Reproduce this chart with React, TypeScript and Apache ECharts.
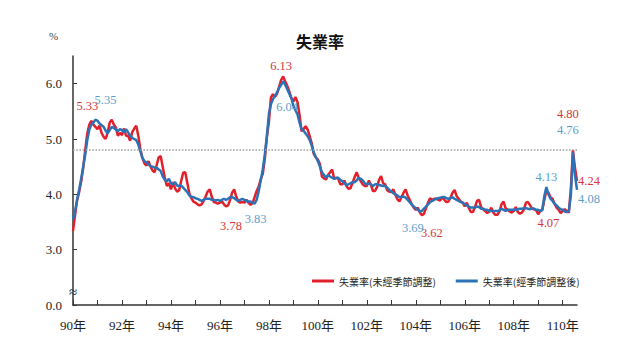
import React, { useEffect, useRef } from "react";
import * as echarts from "echarts";

// Monthly unemployment rate (%), 90年1月 .. 110年8月
const unadjusted = [
  3.34, 3.62, 3.89, 4.04, 4.23, 4.48, 4.80, 5.10, 5.26, 5.33, 5.26, 5.22,
  5.18, 5.24, 5.11, 5.04, 5.00, 5.12, 5.30, 5.35, 5.26, 5.21, 5.06, 5.11,
  5.07, 5.19, 5.06, 5.06, 4.97, 5.12, 5.19, 5.24, 5.06, 4.82, 4.66, 4.56,
  4.52, 4.60, 4.50, 4.43, 4.40, 4.53, 4.67, 4.69, 4.49, 4.30, 4.15, 4.20,
  4.09, 4.22, 4.11, 4.05, 4.07, 4.24, 4.39, 4.40, 4.21, 4.02, 3.93, 3.87,
  3.85, 3.82, 3.80, 3.82, 3.88, 3.96, 4.05, 4.09, 3.96, 3.86, 3.85, 3.83,
  3.85, 3.87, 3.82, 3.78, 3.80, 3.90, 4.03, 4.09, 3.96, 3.87, 3.85, 3.86,
  3.85, 3.90, 3.85, 3.81, 3.84, 3.95, 4.06, 4.14, 4.27, 4.37, 4.64, 5.03,
  5.31, 5.75, 5.81, 5.76, 5.82, 5.94, 6.07, 6.13, 6.04, 5.96, 5.86, 5.74,
  5.68, 5.76, 5.67, 5.44, 5.14, 5.18, 5.23, 5.17, 5.05, 4.92, 4.73, 4.67,
  4.63, 4.55, 4.32, 4.29, 4.27, 4.35, 4.40, 4.45, 4.28, 4.30, 4.28, 4.18,
  4.18, 4.25, 4.15, 4.10, 4.11, 4.21, 4.31, 4.40, 4.30, 4.24, 4.18, 4.15,
  4.15, 4.25, 4.17, 4.06, 4.06, 4.13, 4.26, 4.33, 4.20, 4.18, 4.07, 4.05,
  4.04, 4.09, 3.99, 3.91, 3.87, 3.95, 4.03, 4.09, 3.98, 3.90, 3.82, 3.76,
  3.72, 3.76, 3.67, 3.62, 3.65, 3.75, 3.85, 3.93, 3.90, 3.92, 3.92, 3.90,
  3.89, 3.95, 3.90, 3.86, 3.87, 3.94, 4.03, 4.08, 3.97, 3.92, 3.87, 3.85,
  3.78, 3.85, 3.75, 3.68, 3.68, 3.77, 3.88, 3.90, 3.77, 3.73, 3.70, 3.66,
  3.69, 3.76, 3.67, 3.63, 3.63, 3.69, 3.82, 3.87, 3.75, 3.72, 3.69, 3.67,
  3.70, 3.77, 3.68, 3.65, 3.67, 3.73, 3.85, 3.86, 3.80, 3.74, 3.73, 3.71,
  3.64, 3.70, 3.72, 3.90, 4.07, 4.03, 3.95, 3.92, 3.83, 3.76, 3.72, 3.66,
  3.70, 3.73, 3.70, 3.67, 4.11, 4.80, 4.48, 4.24,
];

const adjusted = [
  3.55, 3.70, 3.90, 4.08, 4.28, 4.50, 4.72, 4.98, 5.17, 5.26, 5.30, 5.35,
  5.33, 5.28, 5.25, 5.22, 5.15, 5.10, 5.16, 5.22, 5.20, 5.17, 5.14, 5.18,
  5.16, 5.12, 5.18, 5.12, 5.06, 5.02, 5.00, 4.98, 4.90, 4.78, 4.66, 4.60,
  4.58, 4.54, 4.51, 4.50, 4.48, 4.48, 4.45, 4.42, 4.32, 4.26, 4.24, 4.28,
  4.20, 4.18, 4.22, 4.16, 4.15, 4.16, 4.12, 4.08, 4.04, 3.98, 3.95, 3.95,
  3.93, 3.92, 3.90, 3.88, 3.90, 3.92, 3.92, 3.92, 3.90, 3.90, 3.89, 3.90,
  3.88, 3.90, 3.92, 3.90, 3.92, 3.95, 3.95, 3.93, 3.90, 3.88, 3.90, 3.92,
  3.90, 3.88, 3.87, 3.87, 3.85, 3.83, 3.90, 4.05, 4.25, 4.45, 4.72, 5.05,
  5.45, 5.63, 5.72, 5.78, 5.84, 5.92, 5.98, 6.04, 5.98, 5.90, 5.82, 5.74,
  5.60, 5.52, 5.45, 5.30, 5.18, 5.15, 5.10, 5.05, 4.98, 4.88, 4.76, 4.67,
  4.60, 4.50, 4.40, 4.35, 4.30, 4.35, 4.32, 4.30, 4.28, 4.30, 4.30, 4.26,
  4.24, 4.20, 4.17, 4.18, 4.20, 4.22, 4.22, 4.25, 4.30, 4.28, 4.25, 4.20,
  4.18, 4.20, 4.18, 4.15, 4.18, 4.18, 4.17, 4.16, 4.15, 4.15, 4.12, 4.08,
  4.05, 4.02, 4.00, 3.98, 3.95, 3.95, 3.96, 3.94, 3.90, 3.86, 3.82, 3.78,
  3.75, 3.72, 3.69, 3.70, 3.74, 3.78, 3.82, 3.86, 3.88, 3.90, 3.92, 3.93,
  3.94, 3.95, 3.95, 3.93, 3.92, 3.93, 3.95, 3.92, 3.90, 3.88, 3.86, 3.85,
  3.82, 3.80, 3.78, 3.76, 3.76, 3.76, 3.78, 3.77, 3.74, 3.74, 3.72, 3.72,
  3.70, 3.70, 3.70, 3.70, 3.70, 3.71, 3.74, 3.72, 3.70, 3.72, 3.72, 3.72,
  3.72, 3.72, 3.73, 3.74, 3.74, 3.75, 3.75, 3.74, 3.73, 3.75, 3.74, 3.72,
  3.72, 3.70, 3.72, 3.97, 4.13, 4.00, 3.92, 3.88, 3.83, 3.80, 3.76, 3.73,
  3.72, 3.69, 3.68, 3.70, 3.98, 4.76, 4.35, 4.08,
];

const years = [90, 91, 92, 93, 94, 95, 96, 97, 98, 99, 100, 101, 102, 103, 104, 105, 106, 107, 108, 109, 110];
const xTickLabels = ["90年", "92年", "94年", "96年", "98年", "100年", "102年", "104年", "106年", "108年", "110年"];
const yTickValues = [2, 3, 4, 5, 6];
const yTickLabels = ["0.0", "3.0", "4.0", "5.0", "6.0"];
const referenceLevel = 4.8;

// annotated points (indices into the monthly arrays)
const redNoteIdx = [9, 103, 75, 171, 232, 245, 247];
const blueNoteIdx = [11, 103, 89, 170, 232, 245, 247];

const categories: string[] = [];
years.forEach((y) => {
  for (let m = 1; m <= 12; m++) categories.push(`${y}/${m}`);
});
categories.length = unadjusted.length;

const RED = "#e1202c";
const BLUE = "#2b73b6";
const RED_TXT = "#d8343c";
const BLUE_TXT = "#5d9fcb";
const SERIF = "'Liberation Serif', serif";
const CJK = "'Noto Sans CJK TC', 'Noto Sans CJK SC', sans-serif";
const MIXED = "'Liberation Serif', 'Noto Sans CJK TC', serif";

const redOffsets = [[-4, -15], [-2, -10], [5, 19], [10, 18], [2, 33], [-5, -36], [12, 0]];
const blueOffsets = [[10, -20], [4, 26], [1, 15], [-7, 17], [0, -10], [-5, -22], [12, 9]];

function notes(idx: number[], vals: number[], offs: number[][], color: string) {
  return {
    symbol: "circle",
    symbolSize: 1,
    silent: true,
    itemStyle: { color: "rgba(0,0,0,0)" },
    label: {
      show: true,
      position: "inside",
      color,
      fontFamily: SERIF,
      fontSize: 12.5,
    },
    data: idx.map((i, k) => ({
      coord: [categories[i], vals[i]],
      value: vals[i].toFixed(2),
      label: { offset: offs[k], formatter: vals[i].toFixed(2) },
    })),
  };
}

export default function App() {
  const ref = useRef<HTMLDivElement>(null);
  useEffect(() => {
    if (!ref.current) return;
    const chart = echarts.init(ref.current, undefined, { renderer: "svg" });
    chart.setOption({
      animation: false,
      backgroundColor: "#ffffff",
      title: {
        text: "失業率",
        left: 291,
        top: 28,
        textStyle: { fontFamily: CJK, fontWeight: "bold", fontSize: 16, color: "#111" },
      },
      legend: {
        left: 307,
        top: 271,
        icon: "rect",
        itemWidth: 22,
        itemHeight: 3,
        itemGap: 20,
        textStyle: { fontFamily: CJK, fontSize: 10, color: "#222" },
        data: ["失業率(未經季節調整)", "失業率(經季節調整後)"],
      },
      grid: { left: 73, right: 63, top: 56, bottom: 55, containLabel: false },
      graphic: [
        {
          type: "text",
          left: 49,
          top: 30,
          style: { text: "%", fontFamily: SERIF, fontSize: 11, fill: "#444" },
        },
        {
          type: "text",
          x: 73,
          y: 292,
          style: {
            text: "≈",
            fontFamily: SERIF,
            fontSize: 15,
            fill: "#222",
            align: "center",
            verticalAlign: "middle",
            backgroundColor: "#fff",
          },
        },
      ],
      xAxis: {
        type: "category",
        data: categories,
        boundaryGap: false,
        axisLine: { lineStyle: { color: "#333", width: 1.5 } },
        axisTick: {
          inside: true,
          length: 5,
          interval: (i: number) => i % 12 === 0,
          lineStyle: { color: "#333" },
        },
        axisLabel: {
          interval: (i: number) => i % 24 === 0,
          formatter: (_v: string, i: number) => xTickLabels[Math.floor(i / 24)] ?? "",
          fontFamily: MIXED,
          fontSize: 13,
          color: "#222",
          margin: 14,
        },
        splitLine: { show: false },
      },
      yAxis: {
        type: "value",
        min: 2,
        max: 6.5,
        interval: 1,
        axisLine: { show: true, lineStyle: { color: "#333", width: 1.5 } },
        axisTick: { show: true, inside: true, length: 4, lineStyle: { color: "#333" } },
        splitLine: { show: false },
        axisLabel: {
          showMaxLabel: false,
          fontFamily: SERIF,
          fontSize: 13,
          color: "#222",
          margin: 11,
          formatter: (v: number) => {
            const k = yTickValues.indexOf(v);
            return k >= 0 ? yTickLabels[k] : "";
          },
        },
      },
      series: [
        {
          name: "失業率(未經季節調整)",
          type: "line",
          data: unadjusted,
          symbol: "none",
          lineStyle: { color: RED, width: 2.5 },
          itemStyle: { color: RED },
          z: 2,
          markLine: {
            silent: true,
            symbol: "none",
            label: { show: false },
            lineStyle: { type: "dotted", color: "#a0a0a0", width: 1.6 },
            data: [{ yAxis: referenceLevel }],
          },
          markPoint: notes(redNoteIdx, unadjusted, redOffsets, RED_TXT),
        },
        {
          name: "失業率(經季節調整後)",
          type: "line",
          data: adjusted,
          symbol: "none",
          lineStyle: { color: BLUE, width: 2.5 },
          itemStyle: { color: BLUE },
          z: 3,
          markPoint: notes(blueNoteIdx, adjusted, blueOffsets, BLUE_TXT),
        },
      ],
    });
    return () => chart.dispose();
  }, []);
  return (
    <div
      ref={ref}
      style={{ position: "fixed", left: 0, top: 0, width: 640, height: 360, background: "#fff" }}
    />
  );
}
